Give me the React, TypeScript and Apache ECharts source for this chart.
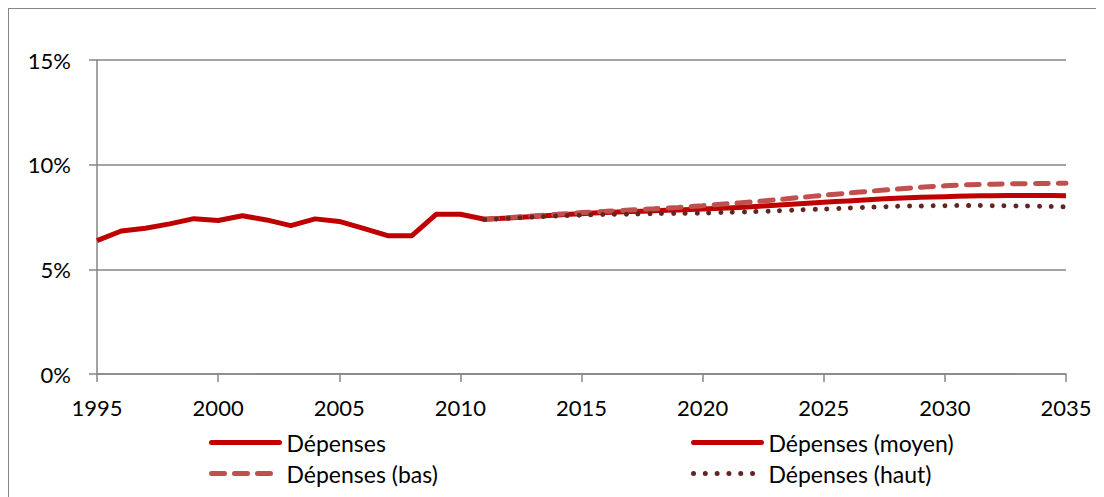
import React, { useEffect, useRef } from "react";
import * as echarts from "echarts";

const histYears = [1995, 1996, 1997, 1998, 1999, 2000, 2001, 2002, 2003, 2004, 2005, 2006, 2007, 2008, 2009, 2010, 2011];
const histValues = [6.37, 6.83, 6.96, 7.17, 7.42, 7.33, 7.56, 7.36, 7.09, 7.41, 7.29, 6.96, 6.61, 6.61, 7.63, 7.63, 7.39];

const projYears = [2011, 2012, 2013, 2014, 2015, 2016, 2017, 2018, 2019, 2020, 2021, 2022, 2023, 2024, 2025, 2026, 2027, 2028, 2029, 2030, 2031, 2032, 2033, 2034, 2035];
const moyenValues = [7.39, 7.45, 7.52, 7.6, 7.66, 7.71, 7.76, 7.8, 7.84, 7.88, 7.93, 7.99, 8.06, 8.13, 8.2, 8.27, 8.34, 8.4, 8.44, 8.47, 8.5, 8.52, 8.53, 8.53, 8.52];
const basValues = [7.39, 7.47, 7.55, 7.63, 7.71, 7.77, 7.83, 7.89, 7.96, 8.04, 8.13, 8.22, 8.32, 8.43, 8.54, 8.64, 8.74, 8.83, 8.92, 8.99, 9.04, 9.07, 9.09, 9.1, 9.11];
const hautValues = [7.38, 7.44, 7.5, 7.55, 7.59, 7.62, 7.64, 7.66, 7.67, 7.69, 7.72, 7.75, 7.79, 7.84, 7.88, 7.93, 7.97, 8.01, 8.03, 8.04, 8.05, 8.04, 8.03, 8.01, 7.98];

const seriesNames = ["Dépenses", "Dépenses (moyen)", "Dépenses (bas)", "Dépenses (haut)"];

const FONT = "Lato, 'Noto Sans', sans-serif";
const GRID_COLOR = "#868686";

const pairs = (xs: number[], ys: number[]) => xs.map((x, i) => [x, ys[i]]);

export default function App() {
  const ref = useRef<HTMLDivElement>(null);

  useEffect(() => {
    if (!ref.current) return;
    const chart = echarts.init(ref.current, undefined, { renderer: "svg" });
    const legendBase = {
      orient: "vertical",
      top: 417,
      itemWidth: 68,
      itemHeight: 14,
      itemGap: 8,
      textStyle: { fontFamily: FONT, fontSize: 23, color: "#000", padding: [0, 0, 0, 2] },
      lineStyle: { width: 5, cap: "round" },
      itemStyle: { opacity: 0 },
      selectedMode: false,
    };
    chart.setOption({
      animation: false,
      grid: { left: 88, top: 51, width: 969, height: 314, containLabel: false },
      xAxis: {
        type: "value",
        min: 1995,
        max: 2035,
        interval: 5,
        axisLine: { show: true, onZero: false, lineStyle: { color: GRID_COLOR, width: 1.5 } },
        axisTick: { show: true, length: 8, lineStyle: { color: GRID_COLOR, width: 1.5 } },
        axisLabel: { fontFamily: FONT, fontSize: 22, color: "#000", margin: 22, formatter: (v: number) => String(v) },
        splitLine: { show: false },
      },
      yAxis: {
        type: "value",
        min: 0,
        max: 15,
        interval: 5,
        axisLine: { show: true, lineStyle: { color: GRID_COLOR, width: 1.5 } },
        axisTick: { show: true, length: 8, lineStyle: { color: GRID_COLOR, width: 1.5 } },
        axisLabel: { fontFamily: FONT, fontSize: 22, color: "#000", margin: 26, formatter: "{value}%" },
        splitLine: { show: true, lineStyle: { color: GRID_COLOR, width: 1.5 } },
      },
      legend: [
        { ...legendBase, data: [seriesNames[0], seriesNames[2]], left: 195 },
        { ...legendBase, data: [seriesNames[1], seriesNames[3]], left: 677 },
      ],
      series: [
        {
          name: seriesNames[0],
          type: "line",
          data: pairs(histYears, histValues),
          showSymbol: false,
          symbol: "none",
          lineStyle: { color: "#C00000", width: 5, join: "round" },
          itemStyle: { color: "#C00000" },
          z: 2,
        },
        {
          name: seriesNames[1],
          type: "line",
          data: pairs(projYears, moyenValues),
          showSymbol: false,
          symbol: "none",
          smooth: 0.3,
          lineStyle: { color: "#C00000", width: 5, join: "round" },
          itemStyle: { color: "#C00000" },
          z: 3,
        },
        {
          name: seriesNames[2],
          type: "line",
          data: pairs(projYears, basValues),
          showSymbol: false,
          symbol: "none",
          smooth: 0.3,
          lineStyle: { color: "#C0504D", width: 5, type: [13, 10], cap: "round" },
          itemStyle: { color: "#C0504D" },
          z: 4,
        },
        {
          name: seriesNames[3],
          type: "line",
          data: pairs(projYears, hautValues),
          showSymbol: false,
          symbol: "none",
          smooth: 0.3,
          lineStyle: { color: "#632523", width: 5, type: [0.01, 11.8], cap: "round" },
          itemStyle: { color: "#632523" },
          z: 5,
        },
      ],
    });
    return () => chart.dispose();
  }, []);

  return (
    <div
      style={{
        width: 1096,
        height: 489,
        boxSizing: "border-box",
        borderTop: "1px solid #868686",
        borderLeft: "1px solid #868686",
        background: "#fff",
      }}
    >
      <div ref={ref} style={{ width: 1095, height: 488 }} />
    </div>
  );
}
